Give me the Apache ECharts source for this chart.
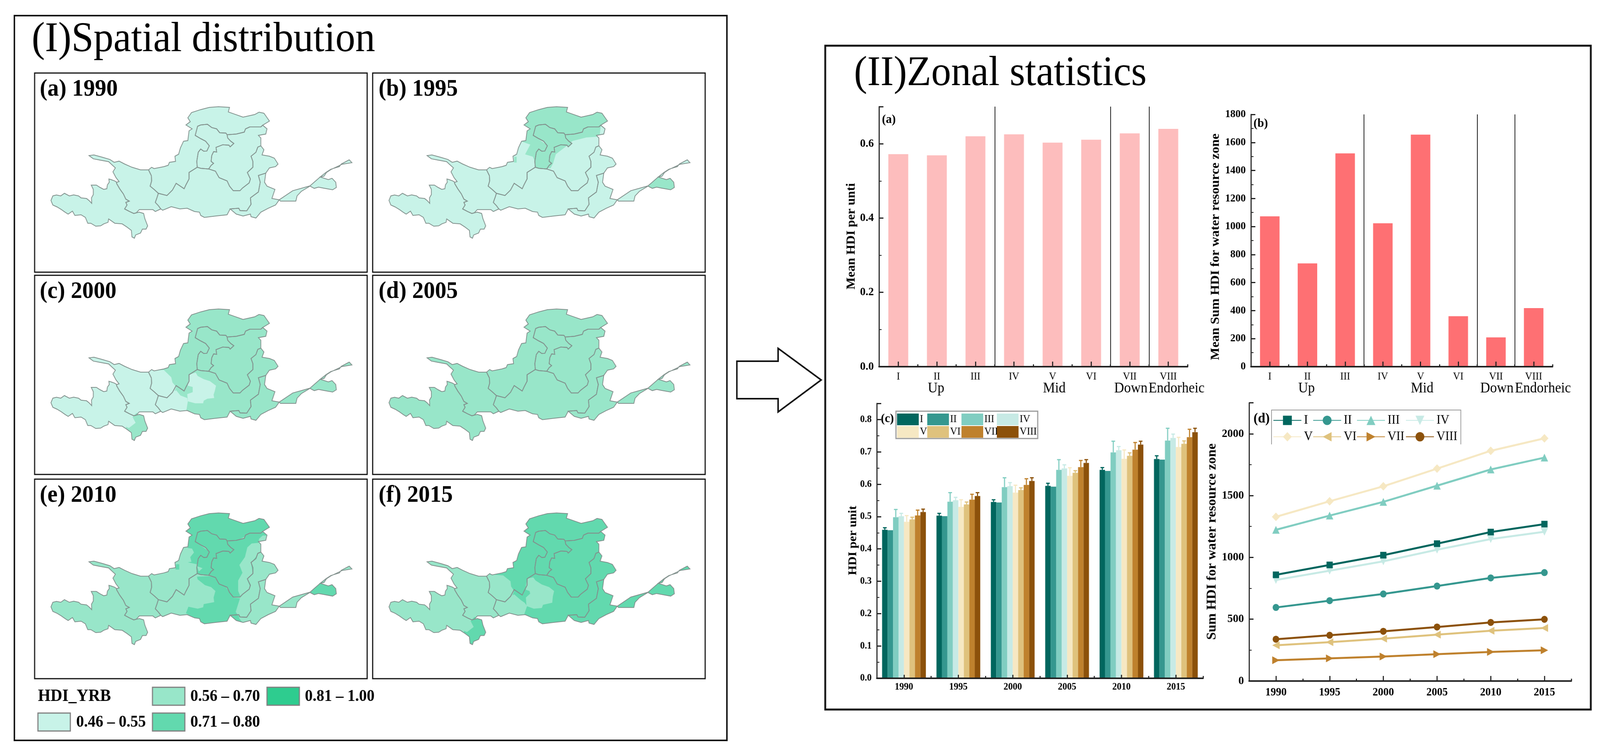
<!DOCTYPE html>
<html><head><meta charset="utf-8">
<script src="https://cdn.jsdelivr.net/npm/echarts@6/dist/echarts.min.js"></script>
<style>html,body{margin:0;padding:0;background:#fff;overflow:hidden}#c{width:4345px;height:1936px;transform-origin:0 0}</style></head>
<body><div id="c"></div>
<script>
// ---------- chart data ----------
const zoneLabels = ['I','II','III','IV','V','VI','VII','VIII'];
const years = ['1990','1995','2000','2005','2010','2015'];
const meanHdiPerUnit = [0.572,0.569,0.620,0.6255,0.603,0.611,0.628,0.640];
const meanSumHdi = [1073,737,1522,1023,1656,360,209,418];
const hdiI   = [0.459,0.503,0.545,0.595,0.6445,0.678];
const hdiII  = [0.458,0.5015,0.5435,0.5925,0.641,0.676];
const hdiIII = [0.498,0.546,0.591,0.6445,0.6985,0.735];
const hdiIV  = [0.501,0.5505,0.594,0.649,0.705,0.743];
const hdiV   = [0.484,0.530,0.574,0.626,0.6785,0.715];
const hdiVI  = [0.491,0.5375,0.582,0.6355,0.688,0.725];
const hdiVII = [0.5035,0.5525,0.598,0.653,0.707,0.7455];
const hdiVIII= [0.514,0.5635,0.610,0.666,0.7225,0.761];
const errTopI   = [0.4655,0.510,0.552,0.603,0.6515,0.688];
const errTopII  = [0.458,0.5015,0.5435,0.5925,0.641,0.676];
const errTopIII = [0.522,0.574,0.620,0.676,0.733,0.773];
const errTopIV  = [0.510,0.5595,0.605,0.660,0.7165,0.755];
const errTopV   = [0.503,0.552,0.597,0.651,0.706,0.745];
const errTopVI  = [0.498,0.545,0.589,0.642,0.697,0.734];
const errTopVII = [0.520,0.569,0.617,0.6735,0.729,0.770];
const errTopVIII= [0.523,0.574,0.620,0.676,0.733,0.773];
const sumI   = [859,939,1018,1111,1205,1269];
const sumII  = [595,650,704,768,834,877];
const sumIII = [1223,1338,1449,1580,1711,1807];
const sumIV  = [817,892,968,1062,1148,1207];
const sumV   = [1328,1454,1575,1718,1862,1963];
const sumVI  = [289,314,343,375,407,429];
const sumVII = [168,183,198,217,235,249];
const sumVIII= [338,370,402,437,474,499];
const dividerZones = [3,6,7];
const legendClasses = ['0.46 – 0.55','0.56 – 0.70','0.71 – 0.80','0.81 – 1.00'];

// HDI class (1..3) of each water resource zone per map
const mapZones = ['A','B','C','Endo','D','E','G','H'];
const class1990 = [1,1,1,1,1,1,1,1];
const class1995 = [1,1,1,2,1,1,1,1];
const class2000 = [1,1,2,2,2,2,2,2];
const class2005 = [2,2,2,2,2,2,2,2];
const class2010 = [2,2,2,3,3,2,2,2];
const class2015 = [2,2,3,3,3,3,3,3];

// ---------- map geometry (map units) ----------
const W = p => p.map(([x,y]) => [x-675,y-69]);
const E = p => p.map(([x,y]) => [x+585,y-69]);
const rev = a => a.slice().reverse();
const aOuter = W([[575,650],[560,640],[530,630],[512,625],[515,650],[500,670],[495,700],[470,705],[440,690],[410,672],[368,672],[385,705],[385,745],[370,770],[372,812],[350,790],[330,775],[285,770],[265,755],[225,747],[190,755],[150,735],[120,755],[85,748],[55,755],[40,790],[55,825],[90,840],[125,860],[155,880],[180,895],[215,872],[235,905],[285,900],[320,920],[340,965],[365,965],[405,988],[445,985],[470,970],[505,958],[510,932],[560,965],[620,970],[660,995],[695,1020],[700,1070],[720,1080],[730,1055],[770,1040],[785,1010],[815,1010],[828,985],[805,930],[795,890],[760,880],[735,885]]);
const ab = W([[735,885],[715,890],[680,875],[640,855],[660,825],[650,805],[678,795],[650,780],[630,740],[600,700],[575,660],[575,650]]);
const bNorth = W([[575,650],[595,645],[570,615],[545,570],[565,540],[530,510],[510,492],[440,480],[385,470],[350,445],[390,440],[460,458],[520,475],[555,497],[595,488],[640,510],[700,535],[770,555],[835,555]]);
const bc = W([[835,555],[858,600],[860,640],[848,680],[880,705],[915,735]]);
const be = W([[915,735],[905,765],[890,805],[915,830],[935,855]]);
const bSouth = W([[935,855],[890,875],[870,860],[800,860],[760,860],[735,885]]);
const cOuter = W([[835,555],[860,535],[880,545],[960,530],[995,520],[1005,497],[1055,490],[1050,450],[1080,435],[1095,385],[1120,335],[1155,330],[1165,255],[1190,240],[1140,210],[1175,185],[1155,155],[1185,115],[1260,92]]).concat(E([[70,75],[145,70],[235,75],[225,110],[270,125],[345,150],[440,130],[475,112],[515,120],[560,180],[505,212]]));
const bandS = E([[505,212],[490,225],[400,225],[365,240],[355,265],[290,280],[215,285]]);
const endoN = E([[215,285],[205,272],[155,270],[130,240],[90,230],[55,205],[0,210]]).concat(W([[1235,220],[1215,290]]));
const cInner = W([[1215,290],[1260,315]]).concat(E([[40,335],[70,370],[50,410],[25,412],[0,395]])).concat(W([[1240,420],[1228,490],[1232,535]]));
const endoS = W([[1232,535],[1260,543]]).concat(E([[65,548]]));
const endoE = E([[215,285],[220,310],[245,335],[270,352],[240,378],[230,365],[180,362],[125,382],[130,418],[105,415],[90,445],[85,490],[105,505],[85,520],[65,548]]);
const ce = W([[1232,535],[1165,575],[1165,625],[1140,670],[1125,700],[1060,658],[1030,710],[985,752],[915,735]]);
const dEast = E([[505,212],[540,240],[530,280],[470,290],[490,310],[490,370]]);
const de = E([[490,370],[465,380],[450,420],[410,450],[425,490],[425,535],[380,575],[405,625],[395,655],[340,695],[320,715],[265,715],[235,680],[215,640],[150,615],[120,565],[65,548]]);
const eEast = E([[490,370],[515,400],[500,440],[560,450],[600,465],[630,510],[610,530],[560,540],[530,580]]);
const eg = E([[530,580],[470,598],[485,650],[470,725],[405,770],[410,820],[375,870],[320,868],[310,850],[240,855]]);
const eSouth = E([[240,855],[215,900],[120,910],[30,920],[0,905]]).concat(W([[1250,880],[1210,875],[1150,850],[1090,855],[1020,838],[950,865],[935,855]]));
const gEast = E([[530,580],[520,650],[540,680],[605,705],[580,775],[640,785]]);
const gSouth = E([[640,785],[610,825],[550,850],[490,880],[450,925],[410,915],[405,895],[345,910],[290,895],[240,855]]);
const hRing = E([[640,785],[750,715],[890,678],[975,608],[1020,575],[1060,550],[1130,530],[1145,510],[1210,478],[1232,500],[1150,512],[1130,522],[1060,553],[1025,575],[1005,603],[975,610],[1040,630],[1070,620],[1100,650],[1105,690],[1075,708],[1000,695],[960,688],[925,697],[890,680],[820,720],[785,755],[775,795],[700,795],[650,795],[640,785]]);
const zoneRings = {
  A: aOuter.concat(ab),
  B: bNorth.concat(bc,be,bSouth,ab),
  C: cOuter.concat(bandS,endoN,cInner,ce,rev(bc)),
  Endo: endoN.concat(cInner,endoS,rev(endoE)),
  D: rev(bandS).concat(dEast,de,rev(endoE)),
  E: rev(ce).concat(endoS,rev(de),eEast,eg,eSouth,rev(be)),
  G: gEast.concat(gSouth,rev(eg)),
  H: hRing
};
const outerRing = bNorth.concat(cOuter,dEast,eEast,gEast,hRing,gSouth,eSouth,bSouth,rev(aOuter));
const sBox = [-768,-258,1941,1272];

// Patches inside the zones: [class, ring]
const bandPatch = [[440,-20],[1180,-20],[1180,120],[1090,150],[950,180],[880,215],[795,215],[545,225]];
const shandong = [[1470,616],[1560,531],[1705,531],[1705,651],[1545,641],[1510,636]];
const patches1990 = [];
const patches1995 = [
  [2, bandPatch.concat([[600,260],[650,295],[650,320],[630,345],[585,335],[565,345],[558,432],[537,385],[474,367],[516,292],[450,270]])],
  [2, [[385,385],[405,385],[405,430],[385,430]]],
  [2, [[795,215],[880,215],[950,180],[1090,150],[1080,230],[973,237],[860,264],[828,291],[760,340],[724,366],[700,440],[680,475],[640,470],[650,300]]],
  [2, shandong]
];
const patches2000 = [
  [1, [[150,470],[285,470],[345,525],[355,565],[385,600],[360,660],[300,700],[160,650]]],
  [1, [[215,660],[310,690],[360,640],[385,625],[420,665],[475,685],[480,710],[470,770],[460,800],[200,810]]],
  [1, [[490,505],[545,490],[560,515],[610,540],[660,555],[710,590],[700,630],[690,660],[695,685],[640,690],[610,705],[605,725],[540,725],[480,710],[475,655],[520,640],[520,600],[480,590]]],
  [2, [[30,830],[55,875],[0,915],[-24,905],[-30,1030],[60,1030],[170,960],[170,800],[60,800]]]
];
const patches2005 = [];
const patches2010 = [
  [3, bandPatch.concat([[600,260],[650,295],[650,320],[630,345],[585,335],[565,345],[555,395],[480,380],[510,375],[500,340],[530,305],[515,275],[480,270],[450,180]])],
  [3, [[385,395],[410,395],[410,435],[380,435]]],
  [2, [[1000,235],[1060,230],[1085,260],[1075,310],[1050,320],[995,385],[1010,470],[965,515],[990,570],[960,620],[910,645],[890,600],[890,520],[925,460],[900,400],[945,340],[965,265]]],
  [2, [[1060,200],[1090,175],[1130,175],[1130,225],[1055,235]]],
  [2, [[555,410],[600,425],[570,450]]],
  [3, [[555,490],[650,485],[700,495],[730,540],[790,570],[820,610],[850,650],[905,655],[870,760],[900,800],[880,800],[835,790],[810,835],[700,850],[620,860],[575,830],[465,770],[485,720],[560,735],[605,725],[610,700],[695,685],[690,650],[705,600],[670,570],[620,555],[560,510]]],
  [3, [[830,790],[890,790],[900,810],[920,835],[900,850],[830,810]]],
  [3, shandong]
];
const patches2015 = [
  [2, [[150,470],[295,480],[355,525],[360,565],[385,600],[360,660],[300,700],[160,650]]],
  [2, [[215,660],[310,690],[360,640],[385,625],[440,670],[470,690],[490,715],[470,770],[460,800],[200,810]]],
  [2, [[490,505],[540,495],[560,520],[610,550],[670,570],[710,600],[700,640],[695,690],[620,705],[610,730],[545,735],[485,715],[480,650],[515,620],[510,600],[480,590],[480,560]]],
  [3, [[30,830],[55,875],[0,915],[-24,905],[-30,1030],[60,1030],[170,960],[170,800],[60,800]]]
];

// ---------- styling ----------
const serif = '"Liberation Serif"';
const classColor = {1:'#C8F3E8',2:'#98E6C9',3:'#62D9AE',4:'#2ECC8F'};
const brbg = ['#01665E','#35978F','#80CDC1','#C7EAE5','#F6E8C3','#DFC27D','#BF812D','#8C510A'];
const mapPanels = [
  {title:'(a) 1990',x:94,y:187,h:510,cls:class1990,patches:patches1990},
  {title:'(b) 1995',x:1012,y:187,h:510,cls:class1995,patches:patches1995},
  {title:'(c) 2000',x:94,y:705,h:510,cls:class2000,patches:patches2000},
  {title:'(d) 2005',x:1012,y:705,h:510,cls:class2005,patches:patches2005},
  {title:'(e) 2010',x:94,y:1227,h:511,cls:class2010,patches:patches2010},
  {title:'(f) 2015',x:1012,y:1227,h:511,cls:class2015,patches:patches2015}
];
const flip = r => r.map(([x,y]) => [x,-y]);
const closeRing = r => r.concat([r[0]]);
const area = r => { let s=0; for(let i=0;i<r.length-1;i++) s+=r[i][0]*r[i+1][1]-r[i+1][0]*r[i][1]; return s; };
function feature(name, ring, hole){
  const ext = closeRing(flip(ring));
  const coords=[ext];
  if(hole){ let h=closeRing(flip(hole)); if(area(h)*area(ext)>0) h=h.slice().reverse(); coords.push(h); }
  return {type:'Feature',properties:{name},geometry:{type:'Polygon',coordinates:coords}};
}
const mapSeries = mapPanels.map((p,i) => {
  const features=[], data=[];
  mapZones.forEach((z,k) => {
    features.push(feature('F_'+z,zoneRings[z]));
    data.push({name:'F_'+z,value:p.cls[k],itemStyle:{areaColor:classColor[p.cls[k]],borderWidth:0}});
  });
  p.patches.forEach((pt,k) => {
    features.push(feature('P_'+k,pt[1]));
    data.push({name:'P_'+k,value:pt[0],itemStyle:{areaColor:classColor[pt[0]],borderWidth:0}});
  });
  const box=[[sBox[0],sBox[1]],[sBox[2],sBox[1]],[sBox[2],sBox[3]],[sBox[0],sBox[3]]];
  features.push(feature('Mask',box,outerRing));
  data.push({name:'Mask',value:0,itemStyle:{areaColor:'#fff',borderWidth:0}});
  mapZones.forEach((z) => {
    features.push(feature('L_'+z,zoneRings[z]));
    data.push({name:'L_'+z,value:0,itemStyle:{areaColor:'rgba(0,0,0,0)',borderColor:'#82918D',borderWidth:2}});
  });
  echarts.registerMap('basin'+i,{type:'FeatureCollection',features});
  return {type:'map',map:'basin'+i,left:p.x,top:p.y,width:903,height:p.h,aspectScale:1,
    boundingCoords:[[sBox[0],-sBox[1]],[sBox[2],-sBox[3]]],roam:false,silent:true,
    showLegendSymbol:false,selectedMode:false,label:{show:false},emphasis:{disabled:true},data};
});

// ---------- graphic helpers ----------
const G=[];
function txt(t,x,y,size,o={}){ // y = vertical centre
  G.push({type:'text',z:100,x,y,rotation:o.rot||0,style:{text:t,font:(o.bold?'bold ':'')+size+'px '+serif,fill:o.color||'#000',align:o.align||'left',verticalAlign:'middle'}});
}
function box(x,y,w,h,lw,c){G.push({type:'rect',z:100,shape:{x,y,width:w,height:h},style:{fill:'none',stroke:c||'#111',lineWidth:lw}});}
box(39,40,1935,1856,4); box(2241,117,2079,1700,5);
txt('(I)Spatial distribution',86,103,108);
txt('(II)Zonal statistics',2319,190,108);
mapPanels.forEach((p,i)=>{
  box(p.x,p.y,903,p.h,3);
  txt(p.title,p.x+(i%2?16:14),p.y+42,62,{bold:true});
});
// map legend
[[103,1826,0,207,1850],[414,1760,1,517,1784],[414,1826,2,517,1850],[725,1760,3,828,1784]].forEach(([x,y,k,tx,ty])=>{
  G.push({type:'rect',z:100,shape:{x,y,width:88,height:46},style:{fill:classColor[k+1],stroke:'#808080',lineWidth:3}});
  txt(legendClasses[k],tx,ty,42,{bold:true});
});
txt('HDI_YRB',103,1784,44,{bold:true});
// arrow
G.push({type:'polygon',z:100,shape:{points:[[2001,925],[2113,925],[2113,892],[2230,973],[2113,1055],[2113,1021],[2001,1021]]},style:{fill:'#fff',stroke:'#111',lineWidth:4}});
// chart annotations
const R=-Math.PI/-2;
txt('Mean HDI per unti',2312,605,33,{bold:true,rot:R,align:'center'});
txt('Mean Sum HDI for water resource zone',3301,632,34,{bold:true,rot:R,align:'center'});
txt('HDI per unit',2317,1384,32,{bold:true,rot:R,align:'center'});
txt('Sum HDI for water resource zone',3292,1387,35,{bold:true,rot:R,align:'center'});
txt('(a)',2395,307,32,{bold:true});
txt('(b)',3404,317,32,{bold:true});
txt('(c)',2392,1073,32,{bold:true});
txt('(d)',3404,1073,36,{bold:true});
[['Up',2542],['Mid',2863],['Down',3071],['Endorheic',3195],['Up',3548],['Mid',3862],['Down',4065],['Endorheic',4190]].forEach(([t,x])=>txt(t,x,995,37,{align:'center'}));
box(2433,1053,385,70,3,'#9a9a9a');
G.push({type:'polyline',z:100,shape:{points:[[3453,1138],[3453,1050],[3967,1050],[3967,1138]]},style:{fill:'none',stroke:'#9a9a9a',lineWidth:2}});

// ---------- axes ----------
const gridsDef=[{left:2387,top:273,width:838,height:666},{left:3397,top:293,width:819,height:646},{left:2381,top:1033,width:886,height:704},{left:3392,top:1031.6,width:875,height:712.4}];
const axisLine={show:true,onZero:false,lineStyle:{color:'#222',width:4}};
const xAxes=[]; 
function addX(g,cats,size,margin,weight){
  xAxes.push({type:'category',gridIndex:g,position:'bottom',data:cats,z:10,boundaryGap:true,axisLine,
    axisTick:{show:true,alignWithLabel:true,inside:true,length:g===2?9:13,lineStyle:{color:'#222',width:3}},
    axisLabel:{show:true,interval:0,margin,fontFamily:serif,fontSize:size,fontWeight:weight,color:'#000'},splitLine:{show:false}});
  xAxes.push({type:'value',gridIndex:g,position:'bottom',min:0,max:cats.length,interval:1,z:10,
    axisLine:{show:false,onZero:false},axisTick:{show:true,inside:true,length:6,lineStyle:{color:'#222',width:3}},
    axisLabel:{show:false},splitLine:{show:false}});
}
addX(0,zoneLabels,27,12,'normal');addX(1,zoneLabels,27,12,'normal');addX(2,years,25,10,'bold');addX(3,years,29,15,'bold');
function yAx(g,max,interval,size,hideAbove,dec){
  return {type:'value',gridIndex:g,min:0,max,interval,z:10,axisLine:{show:true,onZero:false,lineStyle:{color:'#222',width:3}},
    axisTick:{show:true,inside:true,length:12,lineStyle:{color:'#222',width:3}},
    minorTick:{show:true,splitNumber:2,length:7,lineStyle:{color:'#222',width:2}},splitLine:{show:false},minorSplitLine:{show:false},
    axisLabel:{show:true,margin:14,fontFamily:serif,fontWeight:'bold',fontSize:size,color:'#000',
      formatter:v=>v>hideAbove?'':v.toFixed(dec)}};
}
const yAxes=[yAx(0,0.7,0.2,30,0.65,1),yAx(1,1800,200,28,1800,0),yAx(2,0.85,0.1,25,0.8,1),yAx(3,2250,500,30,2000,0)];

// ---------- series ----------
const hdiSeries=[hdiI,hdiII,hdiIII,hdiIV,hdiV,hdiVI,hdiVII,hdiVIII];
const errTops=[errTopI,errTopII,errTopIII,errTopIV,errTopV,errTopVI,errTopVII,errTopVIII];
const sumSeries=[sumI,sumII,sumIII,sumIV,sumV,sumVI,sumVII,sumVIII];
const groupFrac=0.805;
const series=[...mapSeries];
const divider=(xi,yi)=>({type:'line',xAxisIndex:xi,yAxisIndex:yi,data:[],silent:true,showSymbol:false,
  markLine:{silent:true,symbol:'none',animation:false,label:{show:false},lineStyle:{color:'#111',width:2,type:'solid'},data:dividerZones.map(v=>({xAxis:v}))}});
series.push({type:'bar',name:'mean',xAxisIndex:0,yAxisIndex:0,data:meanHdiPerUnit,barWidth:54,itemStyle:{color:'#FDBDBD'},silent:true});
series.push(divider(1,0));
series.push({type:'bar',name:'sum',xAxisIndex:2,yAxisIndex:1,data:meanSumHdi,barWidth:53,itemStyle:{color:'#FE7073'},silent:true});
series.push(divider(3,1));
zoneLabels.forEach((n,k)=>{
  series.push({type:'bar',name:n,xAxisIndex:4,yAxisIndex:2,data:hdiSeries[k],barGap:0,barCategoryGap:'19.5%',itemStyle:{color:brbg[k]},silent:true});
});
zoneLabels.forEach((n,k)=>{
  series.push({type:'custom',xAxisIndex:4,yAxisIndex:2,silent:true,clip:false,z:1,
    data:hdiSeries[k].map((v,i)=>[i,v,errTops[k][i]]),encode:{x:0,y:1},
    renderItem:(params,api)=>{
      const i=api.value(0),bw=api.size([1,0])[0]*groupFrac/8;
      const cx=api.coord([i,0])[0]+(k-3.5)*bw;
      const y0=api.coord([i,api.value(1)])[1],y1=api.coord([i,api.value(2)])[1];
      if(y0-y1<1) return null;
      const st={stroke:brbg[k],lineWidth:3};
      return {type:'group',children:[
        {type:'line',shape:{x1:cx,y1:y0,x2:cx,y2:y1},style:st},
        {type:'line',shape:{x1:cx-5,y1:y1,x2:cx+5,y2:y1},style:st}]};
    }});
});
const dSym=[['rect',0,17],['circle',0,18],['triangle',0,20],['triangle',180,20],['diamond',0,22],['triangle',90,20],['triangle',-90,20],['circle',0,18]];
zoneLabels.forEach((n,k)=>{
  series.push({type:'line',name:'d-'+n,xAxisIndex:6,yAxisIndex:3,data:sumSeries[k],symbol:dSym[k][0],symbolRotate:dSym[k][1],symbolSize:dSym[k][2],
    lineStyle:{color:brbg[k],width:5},itemStyle:{color:brbg[k]},silent:true,z:3+(k===0?1:0)});
});

// ---------- legends ----------
const cLegendX=[2436,2518,2611,2707], dLegendX=[3457,3565,3684,3817];
const legends=zoneLabels.map((n,k)=>({
  data:[n],left:cLegendX[k%4],top:k<4?1059:1091,orient:'horizontal',padding:0,icon:'rect',itemWidth:59,itemHeight:30,itemGap:0,selectedMode:false,
  textStyle:{fontFamily:serif,fontSize:27,color:'#000',padding:[0,0,0,-2]}
})).concat(zoneLabels.map((n,k)=>({
  data:['d-'+n],left:dLegendX[k%4],top:k<4?1060:1102,orient:'horizontal',padding:0,itemWidth:76,itemHeight:30,itemGap:0,selectedMode:false,
  formatter:s=>s.slice(2),textStyle:{fontFamily:serif,fontSize:33,color:'#000',padding:[0,0,0,2]}
})));

const host=document.getElementById('c');
// The browser window may be narrower than the reference: fit the full 4345×1936 drawing into it.
host.style.transform='scale('+(Math.min(window.innerWidth,4345)/4345)+','+(Math.min(window.innerHeight,1936)/1936)+')';
const chart=echarts.init(host,null,{renderer:'canvas',devicePixelRatio:1});
chart.setOption({backgroundColor:'#fff',animation:false,grid:gridsDef,xAxis:xAxes,yAxis:yAxes,legend:legends,series,graphic:{elements:G}});
</script></body></html>
